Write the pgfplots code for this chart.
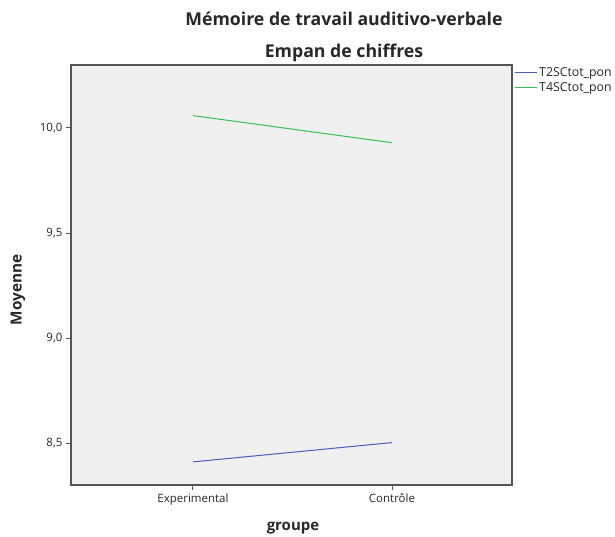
\documentclass[border=0pt]{standalone}
\usepackage{pgfplots}
\pgfplotsset{compat=1.18}
\usepackage{fontspec}
\setmainfont{Open Sans}
\definecolor{lineblue}{RGB}{72,94,192}
\definecolor{linegreen}{RGB}{58,190,84}
\definecolor{bgc}{RGB}{240,240,240}
\definecolor{framec}{RGB}{85,85,85}
\definecolor{textc}{RGB}{40,40,40}
\begin{document}
\begin{tikzpicture}[x=1pt,y=1pt]
\path[use as bounding box] (0,0) rectangle (615,536);
\begin{axis}[
  at={(71pt,51pt)}, anchor=south west,
  width=441pt, height=420pt, scale only axis,
  xmin=-0.613, xmax=1.603, ymin=8.30, ymax=10.30,
  xtick={0,1}, xticklabels={Experimental,Contrôle},
  ytick={8.5,9,9.5,10},
  yticklabel style={/pgf/number format/.cd, fixed, fixed zerofill, precision=1, use comma, assume math mode=true},
  tick label style={font=\fontsize{11.5}{13}\selectfont, text=textc},
  tick align=outside, major tick length=5pt,
  xtick pos=bottom, ytick pos=left,
  tick style={framec, line width=1pt},
  axis background/.style={fill=bgc},
  axis line style={framec, line width=1.4pt},
  legend style={at={(1,1)}, anchor=north west, draw=none, fill=none,
    xshift=1pt, yshift=1pt, font=\fontsize{12.3}{14}\selectfont, text=textc,
    row sep=1pt, cells={anchor=west}, inner sep=1pt},
  legend image code/.code={\draw[#1] (0pt,0pt) -- (22pt,0pt);},
]
\addplot[lineblue, line width=1pt] coordinates {(0,8.410) (1,8.502)};
\addlegendentry{T2SCtot\_pon}
\addplot[linegreen, line width=1pt] coordinates {(0,10.059) (1,9.930)};
\addlegendentry{T4SCtot\_pon}
\end{axis}
\node[anchor=base, font=\bfseries\fontsize{17.7}{20}\selectfont, text=textc] at (344,510) {Mémoire de travail auditivo-verbale};
\node[anchor=base, font=\bfseries\fontsize{17.7}{20}\selectfont, text=textc] at (344,478) {Empan de chiffres};
\node[anchor=base, font=\bfseries\fontsize{15}{18}\selectfont, text=textc] at (293,6) {groupe};
\node[rotate=90, font=\bfseries\fontsize{15.3}{18}\selectfont, text=textc] at (18,246) {Moyenne};
\end{tikzpicture}
\end{document}
